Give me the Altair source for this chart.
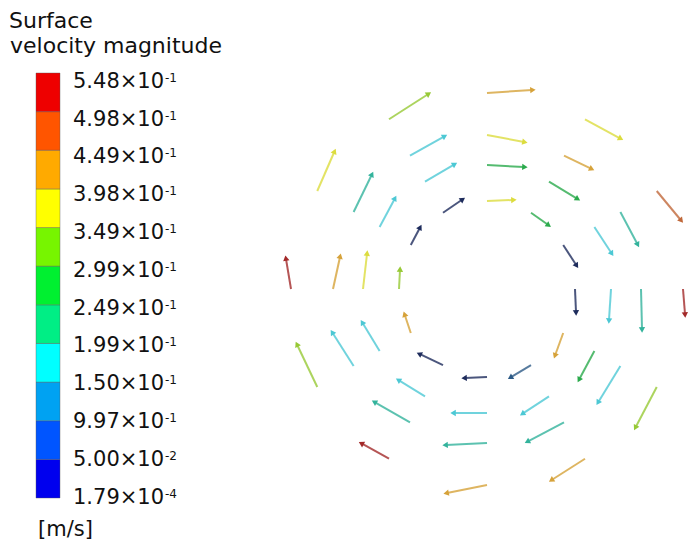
import altair as alt
import numpy as np
import pandas as pd

# ---------------- colour bar ----------------
# tick labels from top to bottom (mantissa and exponent, as printed)
tick_mantissa = ["5.48", "4.98", "4.49", "3.98", "3.49", "2.99",
                 "2.49", "1.99", "1.50", "9.97", "5.00", "1.79"]
tick_exponent = ["-1", "-1", "-1", "-1", "-1", "-1",
                 "-1", "-1", "-1", "-1", "-2", "-4"]
# band colours from bottom to top
band_colors = ["#0000EE", "#0055FF", "#00A2F2", "#00FFFF", "#00EE85", "#00F030",
               "#77F500", "#FFFF00", "#FFAA00", "#FF5500", "#EE0000"]
# inner band limits (m/s), bottom to top
thresholds = [0.0500, 0.0997, 0.150, 0.199, 0.249, 0.299, 0.349, 0.398, 0.449, 0.498]
# arrow colours (same bands, as they appear on the thin arrows)
arrow_colors = ["#1E2C5C", "#2D5A86", "#3A90C8", "#4CC8D4", "#33B39C", "#2BAA4C",
                "#97C936", "#DCDC3E", "#D6A23A", "#C0683A", "#A32A2A"]

title_lines = ["Surface", "velocity magnitude"]
unit_label = "[m/s]"

# ---------------- vector field ----------------
ring_radius = [88, 124, 154, 196]               # mm
angles = [0, 30, 60, 90, 120, 150, 180, 210, 240, 270, 300, 330]  # deg

u_r1 = [1, 13, 17, 26, 19, 9, 1, -6, -23, -22, -20, -8]
v_r1 = [-23, -20, -12, 1, 13, 17, 19, 18, 11, -1, -12, -22]
s_r1 = [0.03, 0.04, 0.27, 0.37, 0.03, 0.04, 0.33, 0.42, 0.02, 0.04, 0.07, 0.41]

u_r2 = [-2, 17, 28, 37, 29, 15, 4, -17, -26, -33, -26, -15]
v_r2 = [-31, -26, -17, -2, 17, 28, 35, 28, 16, 0, -17, -28]
s_r2 = [0.17, 0.18, 0.27, 0.28, 0.17, 0.17, 0.37, 0.16, 0.17, 0.17, 0.18, 0.28]

u_r3 = [1, 17, 27, 37, 34, 18, 7, -21, -35, -41, -36, -22]
v_r3 = [-40, -32, -13, -7, 19, 37, 32, 33, 20, -2, -19, -36]
s_r3 = [0.23, 0.22, 0.42, 0.37, 0.18, 0.23, 0.41, 0.17, 0.23, 0.20, 0.22, 0.18]

u_r4 = [2, 24, 35, 45, 39, 17, -5, -20, -27, -40, -33, -21]
v_r4 = [-25, -29, -19, 3, 25, 39, 30, 42, 15, -8, -21, -40]
s_r4 = [0.52, 0.47, 0.37, 0.43, 0.33, 0.36, 0.53, 0.32, 0.52, 0.41, 0.42, 0.33]

rows = []
for r, us, vs, ss in zip(ring_radius, [u_r1, u_r2, u_r3, u_r4],
                         [v_r1, v_r2, v_r3, v_r4], [s_r1, s_r2, s_r3, s_r4]):
    for a, u, v, s in zip(angles, us, vs, ss):
        t = np.radians(a)
        x, y = r * np.cos(t), r * np.sin(t)
        rows.append({"x": x, "y": y, "x2": x + u, "y2": y + v, "speed": s,
                     "ang": (np.degrees(np.arctan2(u, v)) + 360) % 360})
vec = pd.DataFrame(rows)

# ---------------- layout ----------------
W, H = 684, 535   # whole chart = plot area (page margin 8 px)


def x_domain(v0, p0, v1, p1):
    a0, a1 = p0 / W, p1 / W
    D = (v1 - v0) / (a1 - a0)
    d0 = v0 - a0 * D
    return [d0, d0 + D]


def y_domain(v0, p0, v1, p1):
    a0, a1 = 1 - p0 / H, 1 - p1 / H
    D = (v1 - v0) / (a1 - a0)
    d0 = v0 - a0 * D
    return [d0, d0 + D]


FONT = "DejaVu Sans"

# colour bar bands
bands = pd.DataFrame({"band": list(range(11)),
                      "lo": list(range(11)),
                      "hi": list(range(1, 12))})
ybar = alt.Scale(domain=y_domain(0, 490, 11, 65), nice=False, zero=False)
bar = alt.Chart(bands).mark_rect(stroke="#555555", strokeWidth=0.4).encode(
    x=alt.value(28), x2=alt.value(52),
    y=alt.Y("lo:Q", scale=ybar, axis=None), y2="hi:Q",
    color=alt.Color("band:O", scale=alt.Scale(domain=list(range(11)), range=band_colors),
                    legend=None),
)

labels_df = pd.DataFrame({"pos": list(range(11, -1, -1)),
                          "m": [t + "\u00d710" for t in tick_mantissa],
                          "e": tick_exponent})
ylab = alt.Scale(domain=y_domain(0, 488.5, 11, 72.7), nice=False, zero=False)
labels = alt.Chart(labels_df).mark_text(
    align="left", baseline="middle", font=FONT, fontSize=21, color="#111111", dy=1
).encode(x=alt.value(65), y=alt.Y("pos:Q", scale=ylab, axis=None), text="m:N")
sups = alt.Chart(labels_df).mark_text(
    align="left", baseline="middle", font=FONT, fontSize=12, color="#111111", dy=-3
).encode(x=alt.value(157), y=alt.Y("pos:Q", scale=ylab, axis=None), text="e:N")

t1 = alt.Chart(pd.DataFrame({"t": [title_lines[0]]})).mark_text(
    align="left", baseline="alphabetic", font=FONT, fontSize=22, color="#111111"
).encode(x=alt.value(1), y=alt.value(20), text="t:N")
t2 = alt.Chart(pd.DataFrame({"t": [title_lines[1]]})).mark_text(
    align="left", baseline="alphabetic", font=FONT, fontSize=22, color="#111111"
).encode(x=alt.value(2), y=alt.value(45), text="t:N")
t3 = alt.Chart(pd.DataFrame({"t": [unit_label]})).mark_text(
    align="left", baseline="alphabetic", font=FONT, fontSize=21, color="#111111"
).encode(x=alt.value(30), y=alt.value(528), text="t:N")

# vector field
xs = alt.Scale(domain=x_domain(0, 479, 100, 579), nice=False, zero=False)
ys = alt.Scale(domain=y_domain(0, 281, 100, 181), nice=False, zero=False)
arrow_color = alt.Color("speed:Q", scale=alt.Scale(type="threshold", domain=thresholds,
                                                   range=arrow_colors), legend=None)
shafts = alt.Chart(vec).mark_rule(strokeWidth=2, opacity=0.8).encode(
    x=alt.X("x:Q", scale=xs, axis=None), y=alt.Y("y:Q", scale=ys, axis=None),
    x2="x2:Q", y2="y2:Q", color=arrow_color)
heads = alt.Chart(vec).mark_point(shape="triangle", filled=True, size=40, opacity=1).encode(
    x=alt.X("x2:Q", scale=xs, axis=None), y=alt.Y("y2:Q", scale=ys, axis=None),
    angle=alt.Angle("ang:Q", scale=None), color=arrow_color)
field = alt.layer(shafts, heads)

chart = alt.layer(bar, labels, sups, t1, t2, t3, field).resolve_scale(
    x="independent", y="independent", color="independent"
).properties(
    width=W, height=H, autosize=alt.AutoSizeParams(type="none"), padding=0,
    background="white"
).configure_view(stroke=None)

chart.save("out.html", embed_options={"renderer": "svg", "actions": False})
